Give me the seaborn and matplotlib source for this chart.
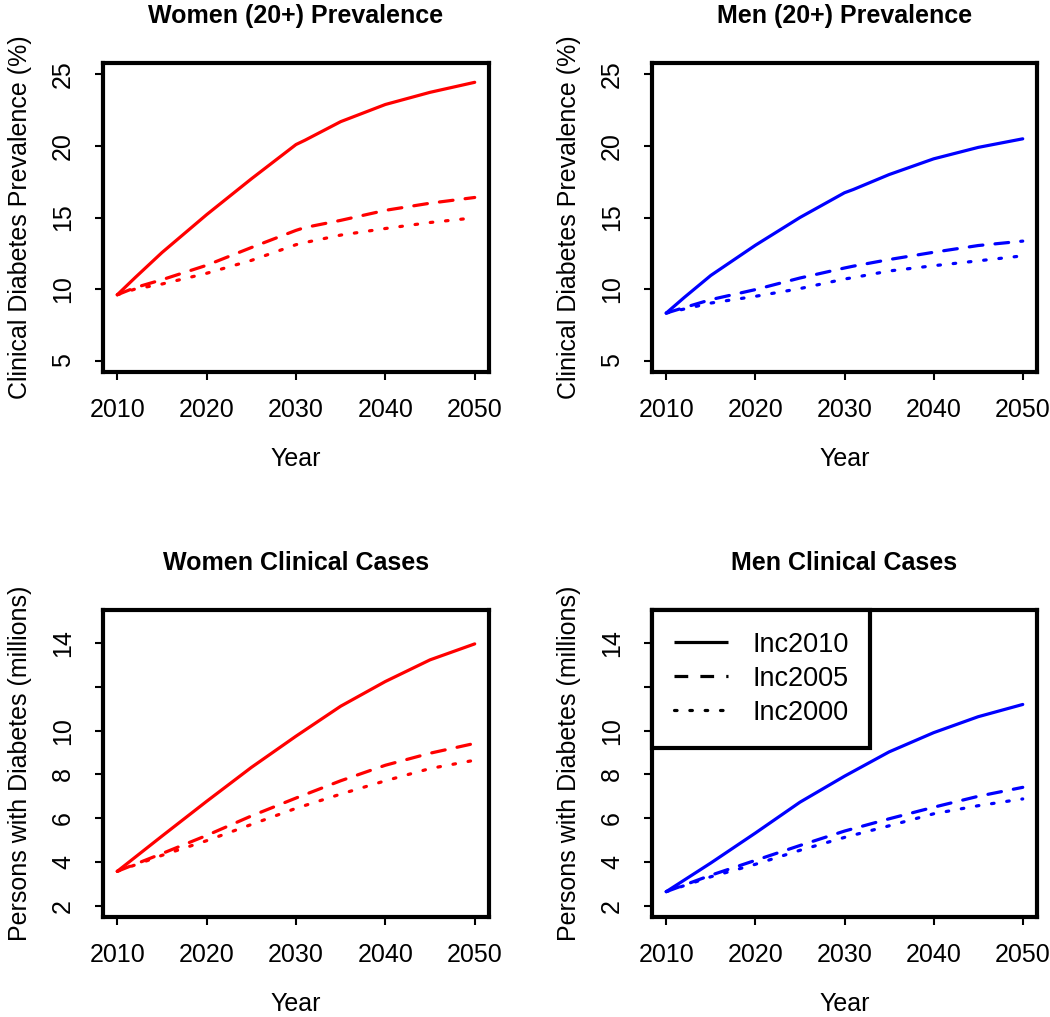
import numpy as np
import pandas as pd
import matplotlib
matplotlib.use("Agg")
import matplotlib.pyplot as plt
import seaborn as sns
from matplotlib.lines import Line2D

sns.set_style("white")
plt.rcParams['font.family'] = ['Liberation Sans', 'DejaVu Sans']
plt.rcParams['text.color'] = 'black'
plt.rcParams['axes.labelcolor'] = 'black'
plt.rcParams['xtick.color'] = 'black'
plt.rcParams['ytick.color'] = 'black'
plt.rcParams['axes.titlecolor'] = 'black'

# ---------------- data ----------------
scenarios = ["Inc2010", "Inc2005", "Inc2000"]

prev_years = [2010, 2012, 2015, 2020, 2025, 2030, 2031, 2035, 2040, 2045, 2050]
women_prev_2010 = [9.6, 10.8, 12.55, 15.2, 17.7, 20.1, 20.4, 21.7, 22.9, 23.75, 24.45]
women_prev_2005 = [9.6, 10.1, 10.65, 11.66, 12.9, 14.1, 14.3, 14.8, 15.5, 16.0, 16.4]
women_prev_2000 = [9.6, 10.0, 10.35, 11.1, 12.0, 13.1, 13.25, 13.77, 14.23, 14.65, 14.98]
men_prev_2010 = [8.32, 9.4, 10.95, 13.06, 15.0, 16.73, 16.96, 18.0, 19.1, 19.9, 20.5]
men_prev_2005 = [8.32, 8.7, 9.26, 9.96, 10.77, 11.47, 11.6, 12.06, 12.57, 13.04, 13.35]
men_prev_2000 = [8.32, 8.6, 9.02, 9.49, 10.03, 10.7, 10.8, 11.26, 11.63, 11.97, 12.32]

case_years = [2010, 2015, 2020, 2025, 2030, 2035, 2040, 2045, 2050]
women_cases_2010 = [3.57, 5.18, 6.77, 8.32, 9.75, 11.12, 12.25, 13.24, 13.97]
women_cases_2005 = [3.57, 4.38, 5.21, 6.1, 6.92, 7.71, 8.42, 8.97, 9.42]
women_cases_2000 = [3.57, 4.3, 4.97, 5.71, 6.45, 7.1, 7.71, 8.27, 8.65]
men_cases_2010 = [2.64, 3.95, 5.32, 6.73, 7.92, 9.03, 9.91, 10.64, 11.2]
men_cases_2005 = [2.64, 3.39, 4.07, 4.75, 5.41, 5.97, 6.5, 7.0, 7.41]
men_cases_2000 = [2.64, 3.32, 3.89, 4.53, 5.12, 5.65, 6.2, 6.57, 6.88]

x_ticks = [2010, 2020, 2030, 2040, 2050]
prev_ticks = [5, 10, 15, 20, 25]
prev_ticklabels = ["5", "10", "15", "20", "25"]
case_ticks = [2, 4, 6, 8, 10, 12, 14]
case_ticklabels = ["2", "4", "6", "8", "10", "", "14"]

titles = ["Women (20+) Prevalence", "Men (20+) Prevalence",
          "Women Clinical Cases", "Men Clinical Cases"]
ylabel_prev = "Clinical Diabetes Prevalence (%)"
ylabel_cases = "Persons with Diabetes (millions)"
xlabel = "Year"


def make_df(years, s1, s2, s3):
    rows = []
    for name, vals in zip(scenarios, [s1, s2, s3]):
        for y, v in zip(years, vals):
            rows.append({"Year": y, "Value": v, "Scenario": name})
    return pd.DataFrame(rows)


LW = 2.3
dash_map = {"Inc2010": "", "Inc2005": (4.3, 3.8), "Inc2000": (0.8, 4.0)}

fig = plt.figure(figsize=(10.5, 10.17), dpi=100)
W, H = 1050, 1017


def add_ax(x0, y0, x1, y1):
    return fig.add_axes([x0 / W, 1 - y1 / H, (x1 - x0) / W, (y1 - y0) / H])


panels = [
    (add_ax(103, 63, 489, 372), make_df(prev_years, women_prev_2010, women_prev_2005, women_prev_2000), "red", "prev"),
    (add_ax(652, 63, 1037, 372), make_df(prev_years, men_prev_2010, men_prev_2005, men_prev_2000), "blue", "prev"),
    (add_ax(103, 610, 489, 917), make_df(case_years, women_cases_2010, women_cases_2005, women_cases_2000), "red", "cases"),
    (add_ax(652, 610, 1037, 917), make_df(case_years, men_cases_2010, men_cases_2005, men_cases_2000), "blue", "cases"),
]

for i, (ax, df, col, kind) in enumerate(panels):
    sns.lineplot(data=df, x="Year", y="Value", style="Scenario",
                 style_order=scenarios, dashes=dash_map, color=col,
                 linewidth=LW, legend=False, ax=ax,
                 dash_capstyle="round", solid_capstyle="round",
                 solid_joinstyle="round")
    ax.set_xlim(2010 - 1.6, 2050 + 1.6)
    ax.set_xticks(x_ticks)
    ax.set_xticklabels([str(t) for t in x_ticks])
    if kind == "prev":
        ax.set_ylim(5 - 0.8, 25 + 0.8)
        ax.set_yticks(prev_ticks)
        ax.set_yticklabels(prev_ticklabels, rotation=90, va="center")
        ax.set_ylabel(ylabel_prev, fontsize=18, labelpad=14)
    else:
        ax.set_ylim(2 - 0.52, 15 + 0.52)
        ax.set_yticks(case_ticks)
        ax.set_yticklabels(case_ticklabels, rotation=90, va="center")
        ax.set_ylabel(ylabel_cases, fontsize=18, labelpad=14)
    ax.set_xlabel(xlabel, fontsize=18, labelpad=18)
    ax.set_title(titles[i], fontsize=18, fontweight="bold", pad=29)
    for s in ax.spines.values():
        s.set_visible(True)
        s.set_linewidth(3.0)
        s.set_color("black")
    ax.tick_params(axis="x", which="both", direction="out", length=6,
                   width=1.5, color="black", labelsize=18, pad=13,
                   bottom=True)
    ax.tick_params(axis="y", which="both", direction="out", length=6,
                   width=1.5, color="black", labelsize=18, pad=14,
                   left=True)
    ax.grid(False)

# legend on the last panel
ax = panels[3][0]
handles = [Line2D([0], [0], color="black", lw=LW, solid_capstyle="butt"),
           Line2D([0], [0], color="black", lw=LW, dashes=(4.3, 3.8)),
           Line2D([0], [0], color="black", lw=LW, dashes=(0.8, 4.0), dash_capstyle="round")]
leg = ax.legend(handles, scenarios, loc="upper left", borderaxespad=0,
                fontsize=19.5, frameon=True, fancybox=False, handlelength=2.0,
                handletextpad=0.9, labelspacing=0.3, borderpad=0.8)
leg.get_frame().set_edgecolor("black")
leg.get_frame().set_linewidth(3.0)
leg.get_frame().set_alpha(1)

fig.savefig("out.png", dpi=100, facecolor="white")
